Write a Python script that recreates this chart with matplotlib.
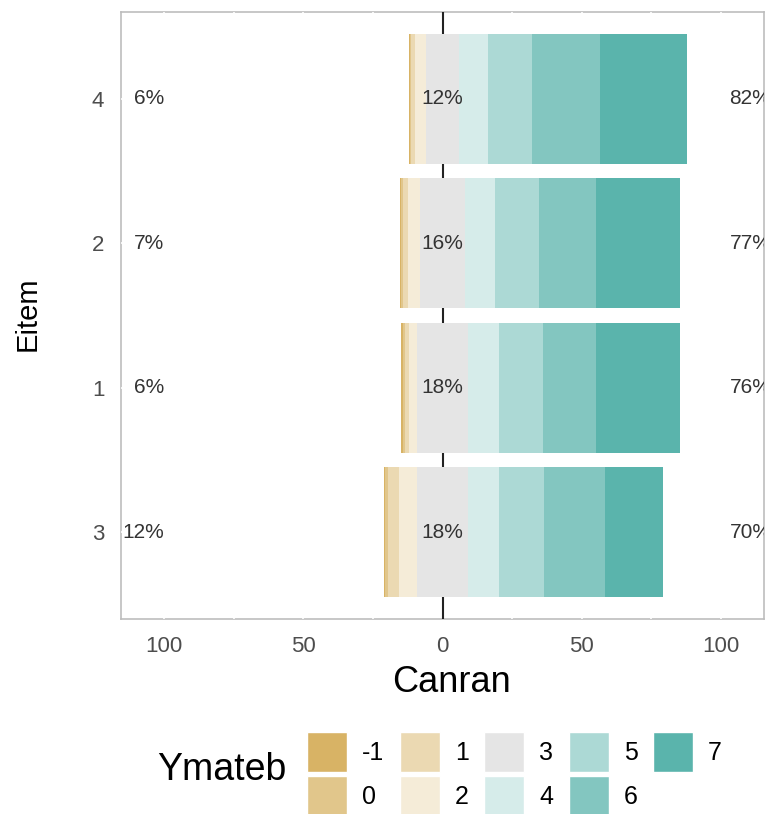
import matplotlib.pyplot as plt
from matplotlib.patches import Patch
import numpy as np

plt.rcParams["font.family"] = ["Liberation Sans", "DejaVu Sans"]

# Response levels and items (bottom -> top)
levels = ["-1", "0", "1", "2", "3", "4", "5", "6", "7"]
items = ["3", "1", "2", "4"]

# Percent of answers per level, one list per item (same order as items)
pct_item3 = [0.5, 1.2, 3.8, 6.5, 18.2, 11.3, 16.2, 21.7, 20.8]
pct_item1 = [0.6, 0.7, 1.7, 2.8, 18.2, 11.3, 15.5, 19.2, 30.2]
pct_item2 = [0.3, 0.7, 1.7, 4.3, 16.2, 10.8, 15.8, 20.5, 29.9]
pct_item4 = [0.3, 0.5, 1.4, 3.8, 12.0, 10.5, 15.6, 24.3, 31.2]

colors = ["#D8B365", "#E1C68B", "#EBD9B2", "#F5ECD8", "#E5E5E5",
          "#D6ECEA", "#ACD9D5", "#83C6C0", "#5AB4AC"]

W, H = 771, 814
fig = plt.figure(figsize=(W / 100, H / 100), dpi=100)
ax = fig.add_axes([121 / W, 1 - 619 / H, (764 - 121) / W, (619 - 12) / H])

data = np.array([pct_item3, pct_item1, pct_item2, pct_item4])
ypos = np.arange(1, len(items) + 1)

for i, row in enumerate(data):
    low = row[:4].sum()
    neutral = row[4]
    high = row[5:].sum()
    left = -(low + neutral / 2)
    for j, v in enumerate(row):
        ax.barh(ypos[i], v, left=left, height=0.9, color=colors[j],
                edgecolor="none", zorder=4)
        left += v
    # percentage labels
    ax.text(-100, ypos[i], f"{low:.0f}%", ha="right", va="center",
            fontsize=15, color="#333333", zorder=5)
    ax.text(0, ypos[i], f"{neutral:.0f}%", ha="center", va="center",
            fontsize=15, color="#333333", zorder=5)
    ax.text(103, ypos[i], f"{high:.0f}%", ha="left", va="center",
            fontsize=15, color="#333333", zorder=5, clip_on=True)

# zero line behind the bars
ax.axvline(0, color="#222222", lw=1.5, zorder=3.5)

# white grid lines (only visible where they cross the border)
for gx in [-100, -75, -50, -25, 25, 50, 75, 100]:
    ax.axvline(gx, color="white", lw=1.2, zorder=3)
for gy in ypos:
    ax.axhline(gy, color="white", lw=1.2, zorder=3)

ax.set_xlim(-115.4, 115.4)
ax.set_ylim(0.4, 4.6)
ax.set_xticks([-100, -50, 0, 50, 100])
ax.set_xticklabels(["100", "50", "0", "50", "100"])
ax.set_yticks(ypos)
ax.set_yticklabels(items)
ax.tick_params(axis="both", length=0, labelsize=16, labelcolor="#4D4D4D")
ax.tick_params(axis="x", pad=12)
ax.tick_params(axis="y", pad=12)
for sp in ax.spines.values():
    sp.set_color("#BDBDBD")
    sp.set_linewidth(1.2)

fig.text(452 / W, 1 - 682 / H, "Canran", ha="center", va="center",
         fontsize=26, color="black")
fig.text(28 / W, 1 - 314 / H, "Eitem", ha="center", va="center",
         fontsize=21, color="black", rotation=90)

# legend: title on the left, keys in 2 rows filled column by column
handles = [Patch(facecolor=c, edgecolor="white", linewidth=1) for c in colors]
fig.text(157 / W, 1 - 770 / H, "Ymateb", ha="left", va="center",
         fontsize=27, color="black")
fig.legend(handles, levels, loc="upper left",
           bbox_to_anchor=(307 / W, 1 - 732 / H), ncol=5, frameon=False,
           fontsize=18, handlelength=1.6, handleheight=2.08,
           handletextpad=0.6, columnspacing=0.62, labelspacing=0.16,
           borderpad=0, borderaxespad=0)

fig.savefig("out.png", dpi=100)
